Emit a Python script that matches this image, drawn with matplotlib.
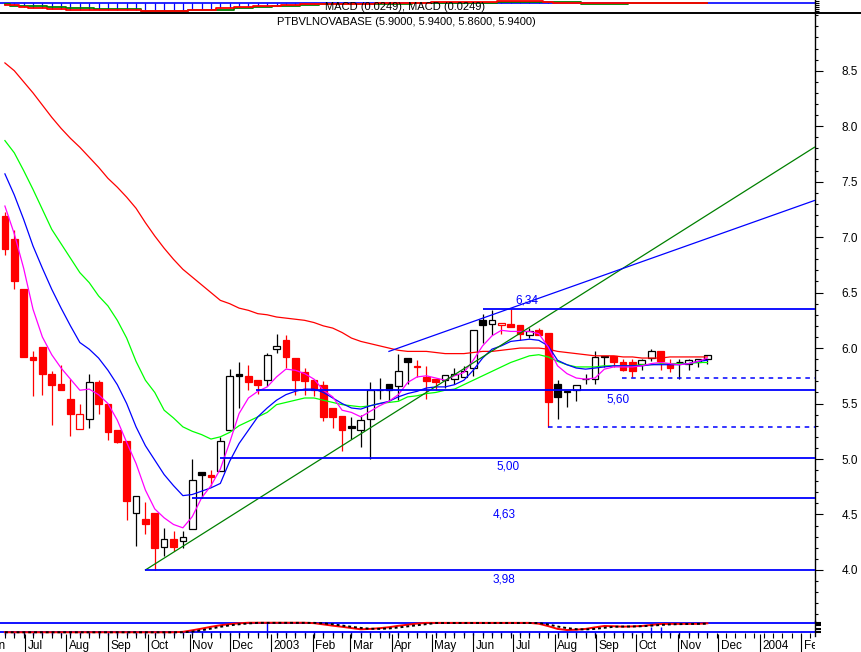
import numpy as np
import matplotlib
matplotlib.use('Agg')
import matplotlib.pyplot as plt
import matplotlib.dates as mdates
from matplotlib.lines import Line2D
from matplotlib.ticker import MultipleLocator, FormatStrFormatter, NullLocator
from matplotlib.transforms import ScaledTranslation

plt.rcParams['font.family'] = ['Liberation Sans', 'DejaVu Sans']

# ---- weekly price data ----
week_start = '2002-06-16'
n_weeks = 76

opens = [7.19, 6.98, 6.53, 5.92, 6.01, 5.77, 5.68, 5.54, 5.27, 5.36,
         5.69, 5.50, 5.26, 5.16, 4.51, 4.46, 4.51, 4.21, 4.28, 4.26,
         4.37, 4.88, 4.86, 4.89, 5.26, 5.77, 5.75, 5.71, 5.71, 5.99,
         6.07, 5.91, 5.78, 5.71, 5.67, 5.46, 5.39, 5.30, 5.26, 5.36,
         5.62, 5.68, 5.66, 5.91, 5.84, 5.74, 5.72, 5.71, 5.72, 5.74,
         5.82, 6.25, 6.22, 6.21, 6.22, 6.21, 6.12, 6.16, 6.14, 5.68,
         5.60, 5.62, 5.72, 5.72, 5.93, 5.93, 5.87, 5.87, 5.86, 5.91,
         5.97, 5.86, 5.87, 5.86, 5.87, 5.90]
highs = [7.23, 7.06, 6.53, 5.97, 6.01, 5.79, 5.85, 5.72, 5.50, 5.77,
         5.71, 5.50, 5.26, 5.16, 4.67, 4.61, 4.51, 4.38, 4.35, 4.35,
         5.00, 4.88, 4.90, 5.20, 5.81, 5.87, 5.85, 5.71, 5.96, 6.13,
         6.12, 5.91, 5.82, 5.72, 5.70, 5.46, 5.39, 5.38, 5.40, 5.69,
         5.73, 5.68, 5.95, 5.91, 5.89, 5.84, 5.72, 5.76, 5.82, 5.84,
         6.16, 6.31, 6.34, 6.23, 6.35, 6.21, 6.18, 6.18, 6.14, 5.71,
         5.61, 5.67, 5.77, 5.97, 5.93, 5.93, 5.90, 5.90, 5.90, 5.99,
         5.97, 5.90, 5.90, 5.90, 5.90, 5.94]
lows = [6.84, 6.53, 5.92, 5.57, 5.58, 5.31, 5.62, 5.21, 5.27, 5.28,
        5.41, 5.17, 5.14, 4.45, 4.22, 4.32, 4.00, 4.13, 4.17, 4.20,
        4.37, 4.65, 4.76, 4.89, 5.26, 5.46, 5.62, 5.59, 5.66, 5.96,
        5.82, 5.58, 5.58, 5.57, 5.34, 5.28, 5.07, 5.18, 5.11, 5.00,
        5.54, 5.52, 5.53, 5.68, 5.74, 5.54, 5.62, 5.64, 5.68, 5.74,
        5.75, 6.05, 6.12, 6.13, 6.19, 6.07, 6.09, 6.12, 5.29, 5.36,
        5.47, 5.52, 5.68, 5.68, 5.83, 5.83, 5.79, 5.74, 5.80, 5.88,
        5.80, 5.78, 5.72, 5.80, 5.83, 5.86]
closes = [6.89, 6.60, 5.92, 5.89, 5.77, 5.67, 5.62, 5.41, 5.41, 5.69,
          5.50, 5.24, 5.15, 4.62, 4.67, 4.41, 4.20, 4.28, 4.21, 4.30,
          4.81, 4.86, 4.84, 5.16, 5.75, 5.75, 5.69, 5.67, 5.94, 6.02,
          5.92, 5.71, 5.70, 5.62, 5.38, 5.38, 5.26, 5.28, 5.35, 5.62,
          5.62, 5.62, 5.79, 5.87, 5.83, 5.70, 5.69, 5.76, 5.77, 5.79,
          6.16, 6.21, 6.25, 6.23, 6.19, 6.13, 6.15, 6.12, 5.51, 5.56,
          5.61, 5.67, 5.72, 5.92, 5.92, 5.87, 5.80, 5.79, 5.89, 5.97,
          5.88, 5.82, 5.87, 5.89, 5.90, 5.94]
# R red filled, K black filled, H hollow black, Q hollow red, D black doji, X red doji
candle_kind = ['R', 'R', 'R', 'R', 'R', 'R', 'R', 'R', 'Q', 'H',
               'R', 'R', 'R', 'R', 'H', 'R', 'R', 'H', 'R', 'H',
               'H', 'K', 'R', 'H', 'H', 'K', 'R', 'R', 'H', 'H',
               'R', 'R', 'R', 'R', 'R', 'R', 'R', 'K', 'H', 'H',
               'D', 'K', 'H', 'K', 'X', 'R', 'R', 'H', 'H', 'H',
               'H', 'K', 'H', 'Q', 'R', 'R', 'H', 'R', 'R', 'K',
               'H', 'H', 'D', 'H', 'K', 'R', 'R', 'R', 'H', 'H',
               'R', 'R', 'D', 'H', 'H', 'H']

# moving averages
ma_red = [8.57, 8.50, 8.40, 8.30, 8.19, 8.08, 7.98, 7.89, 7.81, 7.72,
          7.63, 7.53, 7.45, 7.36, 7.26, 7.13, 7.01, 6.90, 6.80, 6.71,
          6.64, 6.57, 6.50, 6.43, 6.40, 6.36, 6.34, 6.31, 6.30, 6.28,
          6.27, 6.26, 6.25, 6.23, 6.20, 6.18, 6.14, 6.09, 6.06, 6.04,
          6.02, 6.00, 5.98, 5.97, 5.97, 5.97, 5.96, 5.95, 5.95, 5.95,
          5.96, 5.97, 5.97, 5.98, 5.99, 6.00, 6.00, 6.00, 5.99, 5.97,
          5.96, 5.95, 5.94, 5.93, 5.93, 5.93, 5.92, 5.92, 5.91, 5.91,
          5.91, 5.92, 5.92, 5.92, 5.92, 5.92]
ma_green = [7.87, 7.76, 7.60, 7.43, 7.25, 7.07, 6.94, 6.81, 6.68, 6.59,
            6.47, 6.38, 6.25, 6.09, 5.88, 5.71, 5.60, 5.44, 5.37, 5.29,
            5.25, 5.22, 5.18, 5.20, 5.24, 5.30, 5.34, 5.38, 5.42, 5.49,
            5.51, 5.53, 5.55, 5.55, 5.53, 5.51, 5.49, 5.48, 5.47, 5.48,
            5.50, 5.51, 5.52, 5.56, 5.57, 5.59, 5.60, 5.62, 5.63, 5.67,
            5.71, 5.75, 5.79, 5.83, 5.87, 5.90, 5.93, 5.94, 5.92, 5.88,
            5.85, 5.83, 5.83, 5.83, 5.84, 5.84, 5.84, 5.84, 5.85, 5.85,
            5.86, 5.86, 5.86, 5.86, 5.87, 5.87]
ma_blue = [7.57, 7.38, 7.16, 6.92, 6.72, 6.53, 6.36, 6.20, 6.05, 5.99,
           5.91, 5.80, 5.67, 5.50, 5.29, 5.12, 4.99, 4.86, 4.76, 4.67,
           4.68, 4.71, 4.74, 4.78, 4.98, 5.14, 5.26, 5.38, 5.46, 5.53,
           5.58, 5.61, 5.63, 5.63, 5.60, 5.55, 5.50, 5.46, 5.45, 5.48,
           5.50, 5.52, 5.56, 5.59, 5.61, 5.64, 5.65, 5.65, 5.67, 5.71,
           5.80, 5.91, 5.99, 6.02, 6.06, 6.07, 6.08, 6.07, 6.02, 5.89,
           5.85, 5.82, 5.81, 5.82, 5.83, 5.84, 5.84, 5.84, 5.84, 5.85,
           5.85, 5.85, 5.85, 5.86, 5.88, 5.89]
ma_magenta = [7.28, 7.03, 6.72, 6.35, 6.10, 5.94, 5.82, 5.72, 5.62, 5.63,
              5.58, 5.50, 5.35, 5.15, 4.96, 4.72, 4.55, 4.47, 4.41, 4.38,
              4.48, 4.65, 4.76, 4.91, 5.15, 5.41, 5.55, 5.61, 5.65, 5.74,
              5.81, 5.80, 5.77, 5.72, 5.62, 5.56, 5.44, 5.42, 5.38, 5.43,
              5.48, 5.52, 5.58, 5.69, 5.74, 5.75, 5.73, 5.71, 5.75, 5.78,
              5.89, 6.02, 6.11, 6.16, 6.15, 6.15, 6.15, 6.13, 6.01, 5.84,
              5.77, 5.73, 5.72, 5.73, 5.81, 5.83, 5.83, 5.83, 5.84, 5.86,
              5.87, 5.86, 5.85, 5.86, 5.88, 5.91]

# support / resistance lines: level drawn, label text, start date
level_y = [6.35, 5.62, 5.01, 4.65, 4.00]
level_text = ['6,34', '5,60', '5,00', '4,63', '3,98']
level_start = ['2003-06-08', '2002-12-21', '2002-11-24', '2002-11-03', '2002-09-29']
label_pos = [('2003-07-11', 6.43), ('2003-09-17', 5.54), ('2003-06-27', 4.93),
             ('2003-06-24', 4.50), ('2003-06-24', 3.91)]
dashed_y = [5.73, 5.29]
dashed_start = ['2003-09-20', '2003-07-27']
green_trend = (['2002-09-29', '2004-02-11'], [4.00, 7.81])
blue_trend = (['2003-03-30', '2004-02-11'], [5.97, 7.33])

# MACD strip (mostly cut off at the top)
macd = [-0.17, -0.17, -0.34, -0.47, -0.47, -0.54, -0.54, -0.70, -0.70, -0.70,
        -0.67, -0.67, -0.67, -0.67, -0.67, -0.74, -0.74, -0.74, -0.74, -0.74,
        -0.64, -0.64, -0.64, -0.50, -0.50, -0.37, -0.37, -0.27, -0.27, -0.27,
        -0.14, -0.14, -0.12, -0.12, -0.05, -0.04, -0.04, -0.03, -0.03, -0.03,
        -0.02, -0.02, -0.01, -0.01, 0.00, 0.00, 0.13, 0.13, 0.13, 0.13,
        0.13, 0.13, 0.13, 0.18, 0.18, 0.18, 0.18, 0.18, 0.10, 0.05,
        0.02, 0.00, 0.00, 0.00, 0.00, 0.01, 0.01, 0.01, 0.02, 0.02,
        0.02, 0.02, 0.02, 0.02, 0.02, 0.0249]
macd_signal = [-0.10, -0.24, -0.24, -0.30, -0.30, -0.37, -0.37, -0.47, -0.47, -0.47,
               -0.60, -0.60, -0.60, -0.60, -0.60, -0.74, -0.74, -0.74, -0.74, -0.74,
               -0.67, -0.67, -0.67, -0.64, -0.64, -0.50, -0.50, -0.37, -0.37, -0.27,
               -0.27, -0.27, -0.17, -0.17, -0.08, -0.06, -0.06, -0.05, -0.05, -0.05,
               -0.04, -0.04, -0.03, -0.03, -0.02, -0.02, 0.03, 0.03, 0.03, 0.03,
               0.03, 0.03, 0.03, 0.16, 0.16, 0.16, 0.16, 0.16, 0.10, 0.10,
               0.10, 0.10, -0.07, -0.07, -0.07, -0.07, -0.07, -0.02, -0.02, -0.02,
               0.00, 0.00, 0.00, 0.01, 0.01, 0.02]

# stochastic strip at the bottom
sto_k = [16, 16, 16, 16, 16, 16, 16, 16, 16, 16,
         16, 16, 16, 16, 16, 16, 16, 16, 16, 19,
         30, 42, 55, 66, 74, 80, 84, 84, 84, 84,
         84, 84, 84, 81, 72, 63, 55, 46, 37, 40,
         45, 52, 62, 70, 78, 83, 83, 83, 83, 83,
         83, 83, 83, 83, 83, 83, 83, 77, 60, 40,
         32, 34, 40, 51, 61, 59, 56, 58, 61, 68,
         75, 76, 76, 76, 76, 80]
sto_d = [16, 16, 16, 16, 16, 16, 16, 16, 16, 16,
         16, 16, 16, 16, 16, 16, 16, 16, 16, 16,
         20, 30, 42, 55, 65, 73, 79, 83, 83, 83,
         83, 83, 83, 83, 80, 73, 64, 55, 47, 41,
         40, 43, 50, 58, 66, 74, 82, 82, 82, 82,
         82, 82, 82, 82, 82, 82, 82, 82, 72, 57,
         46, 38, 36, 40, 48, 55, 57, 57, 59, 63,
         68, 72, 74, 75, 76, 77]
sto_bar = [20, 20, 20, 20, 20, 20, 20, 20, 20, 20,
           20, 20, 20, 20, 20, 20, 20, 20, 20, 20,
           20, 20, 20, 20, 20, 20, 20, 20, 91, 20,
           20, 20, 20, 20, 20, 20, 20, 20, 20, 20,
           20, 20, 20, 20, 20, 20, 20, 20, 20, 20,
           20, 20, 20, 20, 20, 20, 20, 20, 20, 20,
           20, 20, 20, 20, 20, 20, 20, 20, 20, 50,
           50, 20, 20, 20, 20, 20]

month_labels = ['Jun', 'Jul', 'Aug', 'Sep', 'Oct', 'Nov', 'Dec', '2003', 'Feb', 'Mar', 'Apr',
                'May', 'Jun', 'Jul', 'Aug', 'Sep', 'Oct', 'Nov', 'Dec', '2004', 'Feb']

title_top = 'MACD (0.0249), MACD (0.0249)'
title_main = 'PTBVLNOVABASE (5.9000, 5.9400, 5.8600, 5.9400)'

# ---- layout helpers ----
W, H = 861, 652
fig = plt.figure(figsize=(W / 100, H / 100), dpi=100)


def box(x0, y0, x1, y1):
    # pixel box, origin top-left -> figure fraction
    return [x0 / W, 1 - y1 / H, (x1 - x0) / W, (y1 - y0) / H]


def d(s):
    return mdates.date2num(np.datetime64(s))


BLUE = '#0000FF'
x = mdates.date2num(np.datetime64(week_start) + np.arange(n_weeks) * np.timedelta64(7, 'D'))
xlim = (d('2002-06-12T08:00'), d('2004-02-11T10:00'))


def right_axis(a):
    for s in ['left', 'top', 'bottom']:
        a.spines[s].set_visible(False)
    a.spines['right'].set_color('black')
    a.spines['right'].set_linewidth(1)
    a.patch.set_visible(False)
    a.set_xlim(*xlim)
    a.xaxis.set_major_locator(NullLocator())
    a.yaxis.tick_right()


# ---- main price panel ----
ax = fig.add_axes(box(0, 13, 815, 621))
right_axis(ax)
ax.set_ylim(3.54, 9.02)
ax.set_yticks(np.arange(4.0, 8.51, 0.5))
ax.yaxis.set_minor_locator(MultipleLocator(0.1))
ax.yaxis.set_major_formatter(FormatStrFormatter('%.1f'))
ax.tick_params(axis='y', which='major', length=6, width=0.8, pad=13, labelsize=8.5)
ax.tick_params(axis='y', which='minor', length=2.5, width=0.8)

edge = []
face = []
for k in candle_kind:
    if k == 'R':
        edge.append('#FF0000'); face.append('#FF0000')
    elif k == 'K':
        edge.append('black'); face.append('black')
    elif k == 'Q':
        edge.append('#FF0000'); face.append('white')
    elif k == 'X':
        edge.append('#FF0000'); face.append('#FF0000')
    else:
        edge.append('black'); face.append('white')

o = np.array(opens)
c = np.array(closes)
body_h = np.maximum(np.abs(c - o), 0.004)
ax.vlines(x, lows, highs, colors=edge, lw=0.9, zorder=2)
ax.bar(x, body_h, bottom=np.minimum(o, c), width=5.0, color=face,
       edgecolor=edge, linewidth=0.9, zorder=3)

ax.plot(x, ma_red, color='#FF0000', lw=0.9, zorder=4)
ax.plot(x, ma_green, color='#00FF00', lw=0.9, zorder=4)
ax.plot(x, ma_blue, color=BLUE, lw=0.9, zorder=4)
ax.plot(x, ma_magenta, color='#FF00FF', lw=0.9, zorder=4)

ax.plot([d(s) for s in green_trend[0]], green_trend[1], color='#008000', lw=0.9, zorder=5)
ax.plot([d(s) for s in blue_trend[0]], blue_trend[1], color=BLUE, lw=0.9, zorder=5)

ax.hlines(level_y, [d(s) for s in level_start], xlim[1], color=BLUE, lw=1.3, zorder=5)
ax.hlines(dashed_y, [d(s) for s in dashed_start], xlim[1], color=BLUE, lw=1.1,
          linestyles=(0, (3, 3)), zorder=5)
for (ds, py), t in zip(label_pos, level_text):
    ax.text(d(ds), py, t, color=BLUE, fontsize=8.5, ha='center', va='center', zorder=6)

# ---- MACD strip on top ----
axm = fig.add_axes(box(0, 0, 815, 13))
right_axis(axm)
axm.set_ylim(-0.97, 0.33)
axm.set_yticks([0.2, 0.0, -0.2, -0.4, -0.6, -0.8])
axm.tick_params(axis='y', length=3, width=0.8, labelright=False)
axm.vlines(x, 0, macd, color=BLUE, lw=0.9)
axm.axhline(0, color=BLUE, lw=1.2)
axm.plot(x, macd_signal, color='#008000', lw=1.3, drawstyle='steps-mid')
axm.plot(x, macd, color='#FF0000', lw=1.3, drawstyle='steps-mid')

# ---- stochastic strip at the bottom ----
axs = fig.add_axes(box(0, 621, 815, 636))
right_axis(axs)
axs.set_ylim(-10.7, 96.4)
axs.set_yticks([80, 65, 42, 20])
axs.tick_params(axis='y', length=4, width=1.5, labelright=False)
axs.axhline(80, color=BLUE, lw=1.3)
axs.axhline(20, color=BLUE, lw=1.3)
axs.vlines(x, -4, sto_bar, color=BLUE, lw=1.0)
axs.plot(x, sto_k, color='#FF0000', lw=1.4)
axs.plot(x, sto_d, color='black', lw=1.4, linestyle=(0, (1.5, 1.5)))

# ---- date axis ----
axd = fig.add_axes(box(0, 633, 815, 652))
axd.set_axis_off()
axd.set_xlim(*xlim)
axd.set_ylim(0, 1)
week_ticks = mdates.date2num(np.arange(np.datetime64('2002-06-09'), np.datetime64('2004-02-15'),
                                       np.timedelta64(7, 'D')))
axd.vlines(week_ticks, 0.74, 1.0, color='black', lw=0.8)
months = mdates.date2num(np.arange(np.datetime64('2002-06'), np.datetime64('2004-03'),
                                   np.timedelta64(1, 'M')).astype('datetime64[D]'))
axd.vlines(months, 0.0, 0.95, color='black', lw=0.8)
shift = axd.transData + ScaledTranslation(2.5 / 100, 0, fig.dpi_scale_trans)
for m, lab in zip(months, month_labels):
    axd.text(m, 0.32, lab, fontsize=8.5, ha='left', va='center', transform=shift, clip_on=True)

# ---- headers and frame line ----
fig.add_artist(Line2D([0, 1], [1 - 13 / H] * 2, transform=fig.transFigure, color='black', lw=1.4))
fig.text(405 / W, 1 - 7.5 / H, title_top, fontsize=8, ha='center', va='center')
fig.text(406 / W, 1 - 22 / H, title_main, fontsize=8, ha='center', va='center')

fig.savefig('out.png', dpi=100, facecolor='white')
